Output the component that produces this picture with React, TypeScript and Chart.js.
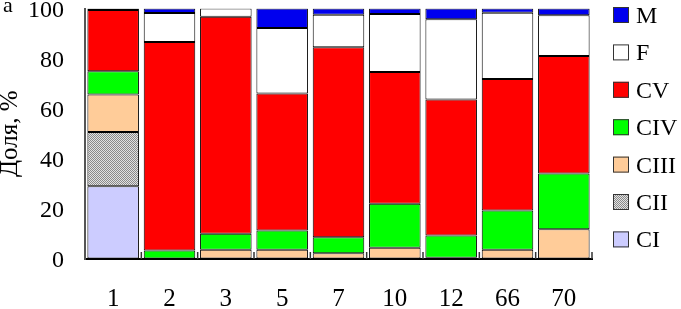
import React, { useEffect, useRef } from "react";
import { Chart, registerables } from "chart.js";

Chart.register(...registerables);

const categories = ["1", "2", "3", "5", "7", "10", "12", "66", "70"];
const CI = [29, 0, 0, 0, 0, 0, 0, 0, 0];
const CII = [21.7, 0, 0, 0, 0, 0, 0, 0, 0];
const CIII = [15, 0, 3.7, 3.7, 2.3, 4.5, 0.5, 3.7, 11.9];
const CIV = [9.3, 3.4, 6.4, 7.7, 6.4, 17.6, 8.9, 15.7, 22.2];
const CV = [24.4, 83.2, 86.6, 54.7, 75.8, 52.6, 54.3, 52.5, 46.9];
const F = [0.6, 11.6, 3.3, 26.1, 13, 23.1, 32, 26.4, 16.3];
const M = [0, 1.8, 0, 7.8, 2.5, 2.2, 4.3, 1.7, 2.7];
const yMin = 0;
const yMax = 100;
const yStep = 20;
const yTitle = "Доля, %";
const panelLetter = "а";

const FONT = '"Liberation Serif", "Times New Roman", serif';

function makePattern(): CanvasPattern | string {
  const c = document.createElement("canvas");
  c.width = 4;
  c.height = 4;
  const g = c.getContext("2d");
  if (!g) return "#bbbbbb";
  for (let y = 0; y < 4; y++) {
    for (let x = 0; x < 4; x++) {
      g.fillStyle = (x + y) % 2 === 0 ? "#8a8a8a" : "#e2e2e2";
      g.fillRect(x, y, 1, 1);
    }
  }
  const p = g.createPattern(c, "repeat");
  return p || "#bbbbbb";
}

const decorPlugin = {
  id: "decor",
  afterDraw(chart: any) {
    const ctx = chart.ctx as CanvasRenderingContext2D;
    const xs = chart.scales.x;
    const area = chart.chartArea;
    ctx.save();
    // inward tick marks at category boundaries
    ctx.strokeStyle = "#333333";
    ctx.lineWidth = 1.5;
    const n = categories.length;
    for (let i = 1; i <= n; i++) {
      const px =
        i < n
          ? (xs.getPixelForValue(i - 1) + xs.getPixelForValue(i)) / 2
          : area.right;
      ctx.beginPath();
      ctx.moveTo(px, area.bottom);
      ctx.lineTo(px, area.bottom - 7);
      ctx.stroke();
    }
    // legend (reversed order)
    const ds = chart.data.datasets.slice().reverse();
    const boxX = 613;
    const textX = 636;
    const startY = 15;
    const stepY = 37.4;
    ctx.font = `24px ${FONT}`;
    ctx.textBaseline = "alphabetic";
    ctx.textAlign = "left";
    ds.forEach((d: any, i: number) => {
      const cy = startY + i * stepY;
      ctx.fillStyle = d.backgroundColor;
      ctx.fillRect(boxX, cy - 8, 16, 16);
      ctx.strokeStyle = "#333333";
      ctx.lineWidth = 1;
      ctx.strokeRect(boxX + 0.5, cy - 7.5, 15, 15);
      ctx.fillStyle = "#000000";
      ctx.fillText(d.label, textX, cy + 8);
    });
    // panel letter
    ctx.font = `22px ${FONT}`;
    ctx.fillText(panelLetter, 3, 12);
    ctx.restore();
  },
};

export default function App() {
  const ref = useRef<HTMLCanvasElement | null>(null);
  useEffect(() => {
    if (!ref.current) return;
    const pattern = makePattern();
    const mk = (label: string, data: number[], color: any) => ({
      label,
      data,
      backgroundColor: color,
      borderColor: "#000000",
      borderWidth: 1,
      borderSkipped: false,
      barPercentage: 0.915,
      categoryPercentage: 1,
    });
    const chart = new Chart(ref.current, {
      type: "bar",
      data: {
        labels: categories,
        datasets: [
          mk("CI", CI, "#ccccff"),
          mk("CII", CII, pattern),
          mk("CIII", CIII, "#ffcc99"),
          mk("CIV", CIV, "#00ff00"),
          mk("CV", CV, "#ff0000"),
          mk("F", F, "#ffffff"),
          mk("M", M, "#0000ee"),
        ],
      },
      options: {
        responsive: false,
        animation: false,
        devicePixelRatio: 1,
        layout: { padding: { left: 0, right: 89, top: 8.5, bottom: 0 } },
        plugins: {
          legend: { display: false },
          tooltip: { enabled: false },
        },
        scales: {
          x: {
            stacked: true,
            grid: { display: false, drawTicks: false },
            border: { display: true, color: "#000000", width: 2 },
            ticks: {
              color: "#000000",
              padding: 25,
              font: { family: FONT, size: 25 },
              maxRotation: 0,
            },
            afterFit: (s: any) => {
              s.height = 50;
            },
          },
          y: {
            stacked: true,
            min: yMin,
            max: yMax,
            grid: {
              display: true,
              drawOnChartArea: false,
              drawTicks: true,
              tickLength: 21,
              color: "rgba(0,0,0,0)",
            },
            border: { display: true, color: "#555555", width: 2 },
            ticks: {
              stepSize: yStep,
              color: "#000000",
              padding: 0,
              labelOffset: 2,
              font: { family: FONT, size: 24, lineHeight: 0.01 },
            },
            title: {
              display: true,
              text: yTitle,
              color: "#000000",
              padding: { top: 0, bottom: 0 },
              font: { family: FONT, size: 25, lineHeight: 0.8 },
            },
            afterFit: (s: any) => {
              s.width = 85;
            },
          },
        },
      },
      plugins: [decorPlugin],
    });
    return () => chart.destroy();
  }, []);
  return (
    <div style={{ position: "absolute", left: 0, top: 0, width: 681, height: 309 }}>
      <canvas ref={ref} width={681} height={309} style={{ width: 681, height: 309 }} />
    </div>
  );
}
